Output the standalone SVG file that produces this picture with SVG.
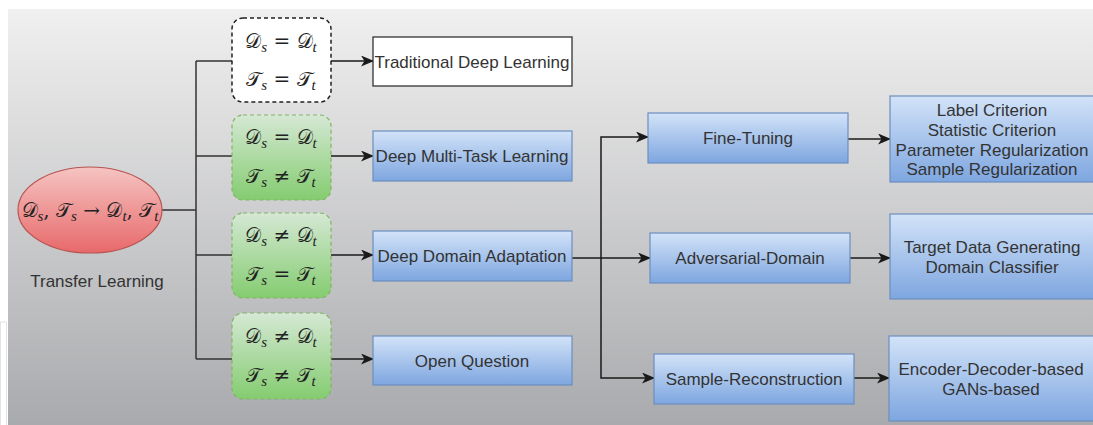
<svg xmlns="http://www.w3.org/2000/svg" width="1093" height="425" viewBox="0 0 1093 425">
<defs>
<linearGradient id="bg" x1="0" y1="0" x2="0" y2="1"><stop offset="0" stop-color="#f0f0f0"/><stop offset="1" stop-color="#a9aaad"/></linearGradient>
<linearGradient id="blue" x1="0" y1="0" x2="0" y2="1"><stop offset="0" stop-color="#d2e3f8"/><stop offset="1" stop-color="#7ea6e0"/></linearGradient>
<linearGradient id="green" x1="0" y1="0" x2="0" y2="1"><stop offset="0" stop-color="#d5e8d4"/><stop offset="1" stop-color="#84cc70"/></linearGradient>
<linearGradient id="red" x1="0" y1="0" x2="0" y2="1"><stop offset="0" stop-color="#f5c4c2"/><stop offset="1" stop-color="#e8696a"/></linearGradient>
<marker id="arr" markerWidth="13" markerHeight="11" refX="12" refY="5.5" orient="auto" markerUnits="userSpaceOnUse"><path d="M0,0 L13,5.5 L0,11 L3.5,5.5 Z" fill="#1a1a1a"/></marker>
</defs>
<style>
.bx{fill:url(#blue);stroke:#6c8ebf;stroke-width:1.2}
.gr{fill:url(#green);stroke:#82b366;stroke-width:1.2;stroke-dasharray:4 3}
.wd{fill:#ffffff;stroke:#222;stroke-width:1.5;stroke-dasharray:4 3}
.t{font-family:"Liberation Sans",Arial,sans-serif;font-size:17px;fill:#333;text-anchor:middle}
.m{font-family:"DejaVu Serif","Liberation Serif",serif;font-size:20px;fill:#222;text-anchor:middle}
.s{font-family:"Liberation Serif",serif;font-style:italic;font-size:15px}
.ln{fill:none;stroke:#333;stroke-width:1.5}
.la{fill:none;stroke:#1a1a1a;stroke-width:1.5;marker-end:url(#arr)}
</style>
<rect x="0" y="0" width="1093" height="425" fill="#ffffff"/>
<rect x="0.5" y="322" width="6" height="104" fill="#fff" stroke="#e4e4e4"/>
<rect x="8" y="9" width="1085" height="416" fill="url(#bg)"/>

<g id="connectors">
<path class="ln" d="M161,210 H196 M196,61 V359 M196,61 H232 M196,156 H232 M196,255 H232 M196,359 H232"/>
<path class="la" d="M331,61 H373"/>
<path class="la" d="M331,156 H373"/>
<path class="la" d="M331,255 H373"/>
<path class="la" d="M331,359 H373"/>
<path class="la" d="M572,258 H650"/>
<path class="la" d="M601,258 V137 H648"/>
<path class="la" d="M601,258 V378 H654"/>
<path class="la" d="M848,139 H890"/>
<path class="la" d="M850,258 H890"/>
<path class="la" d="M854,378 H889"/>
</g>

<g id="root">
<ellipse cx="90" cy="210" rx="72" ry="43" fill="url(#red)" stroke="#b85450" stroke-width="1.2"/>
<text class="m" x="90" y="217">𝒟<tspan class="s" dy="4">s</tspan><tspan dy="-4">, 𝒯</tspan><tspan class="s" dy="4">s</tspan><tspan dy="-4"> → 𝒟</tspan><tspan class="s" dy="4">t</tspan><tspan dy="-4">, 𝒯</tspan><tspan class="s" dy="4">t</tspan></text>
<text class="t" x="97" y="287">Transfer Learning</text>
</g>

<g id="cond1">
<rect class="wd" x="232" y="18" width="99" height="84" rx="11"/>
<text class="m" x="281" y="48">𝒟<tspan class="s" dy="4">s</tspan><tspan dy="-4"> = 𝒟</tspan><tspan class="s" dy="4">t</tspan></text>
<text class="m" x="281" y="86">𝒯<tspan class="s" dy="4">s</tspan><tspan dy="-4"> = 𝒯</tspan><tspan class="s" dy="4">t</tspan></text>
</g>
<g id="cond2">
<rect class="gr" x="232" y="115" width="99" height="85" rx="11"/>
<text class="m" x="281" y="144">𝒟<tspan class="s" dy="4">s</tspan><tspan dy="-4"> = 𝒟</tspan><tspan class="s" dy="4">t</tspan></text>
<text class="m" x="281" y="183">𝒯<tspan class="s" dy="4">s</tspan><tspan dy="-4"> ≠ 𝒯</tspan><tspan class="s" dy="4">t</tspan></text>
</g>
<g id="cond3">
<rect class="gr" x="232" y="213" width="99" height="85" rx="11"/>
<text class="m" x="281" y="242">𝒟<tspan class="s" dy="4">s</tspan><tspan dy="-4"> ≠ 𝒟</tspan><tspan class="s" dy="4">t</tspan></text>
<text class="m" x="281" y="281">𝒯<tspan class="s" dy="4">s</tspan><tspan dy="-4"> = 𝒯</tspan><tspan class="s" dy="4">t</tspan></text>
</g>
<g id="cond4">
<rect class="gr" x="232" y="313" width="99" height="86" rx="11"/>
<text class="m" x="281" y="343">𝒟<tspan class="s" dy="4">s</tspan><tspan dy="-4"> ≠ 𝒟</tspan><tspan class="s" dy="4">t</tspan></text>
<text class="m" x="281" y="382">𝒯<tspan class="s" dy="4">s</tspan><tspan dy="-4"> ≠ 𝒯</tspan><tspan class="s" dy="4">t</tspan></text>
</g>

<g id="traditional">
<rect x="373" y="37" width="199" height="49" fill="#fff" stroke="#333" stroke-width="1.3"/>
<text class="t" x="472" y="68">Traditional Deep Learning</text>
</g>
<g id="multitask">
<rect class="bx" x="373" y="131" width="199" height="50"/>
<text class="t" x="472" y="162">Deep Multi-Task Learning</text>
</g>
<g id="domain">
<rect class="bx" x="373" y="231" width="199" height="50"/>
<text class="t" x="472" y="262">Deep Domain Adaptation</text>
</g>
<g id="open">
<rect class="bx" x="373" y="336" width="199" height="49"/>
<text class="t" x="472" y="367">Open Question</text>
</g>

<g id="finetune">
<rect class="bx" x="648" y="113" width="200" height="50"/>
<text class="t" x="748" y="144">Fine-Tuning</text>
</g>
<g id="adversarial">
<rect class="bx" x="650" y="233" width="200" height="50"/>
<text class="t" x="750" y="264">Adversarial-Domain</text>
</g>
<g id="reconstruction">
<rect class="bx" x="654" y="354" width="200" height="50"/>
<text class="t" x="754" y="385">Sample-Reconstruction</text>
</g>

<g id="ft-detail">
<rect class="bx" x="890" y="96" width="206" height="86"/>
<text class="t" x="992" y="116">Label Criterion</text>
<text class="t" x="992" y="136">Statistic Criterion</text>
<text class="t" x="992" y="156">Parameter Regularization</text>
<text class="t" x="992" y="175">Sample Regularization</text>
</g>
<g id="adv-detail">
<rect class="bx" x="890" y="214" width="206" height="85"/>
<text class="t" x="992" y="253">Target Data Generating</text>
<text class="t" x="992" y="273">Domain Classifier</text>
</g>
<g id="rec-detail">
<rect class="bx" x="889" y="336" width="206" height="85"/>
<text class="t" x="991" y="375">Encoder-Decoder-based</text>
<text class="t" x="991" y="395">GANs-based</text>
</g>
</svg>
